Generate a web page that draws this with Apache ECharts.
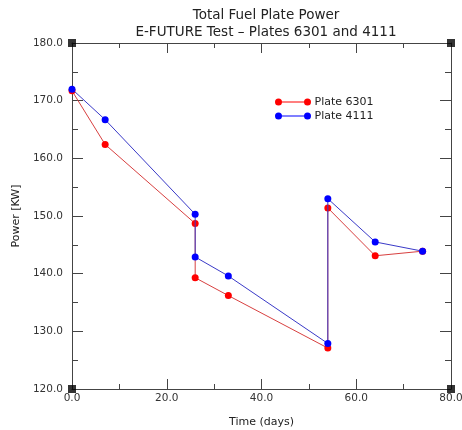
<!DOCTYPE html>
<html>
<head>
<meta charset="utf-8">
<script src="https://cdn.jsdelivr.net/npm/echarts@6/dist/echarts.min.js"></script>
<style>html,body{margin:0;padding:0;background:#fff}#c{width:462px;height:430px}</style>
</head>
<body>
<div id="c"></div>
<script>
var days = [0, 7, 26, 26, 33, 54, 54, 64, 74];
var plate6301 = [171.7, 162.4, 148.7, 139.3, 136.2, 127.1, 151.4, 143.1, 143.9];
var plate4111 = [172.0, 166.7, 150.3, 142.9, 139.6, 127.9, 153.0, 145.5, 143.9];
var seriesNames = ['Plate 6301', 'Plate 4111'];
var xMin = 0, xMax = 80, xStep = 20;
var yMin = 120, yMax = 180, yStep = 10;

function pairs(xs, ys) { return xs.map(function (x, i) { return [x, ys[i]]; }); }
var corners = [[xMin, yMin], [xMax, yMin], [xMin, yMax], [xMax, yMax]];

var FONT = 'DejaVu Sans';
var axisColor = '#444';
var legendIcon = 'path://M0,3.5A3.5,3.5,0,1,1,7,3.5A3.5,3.5,0,1,1,0,3.5ZM3.5,3L32.5,3L32.5,4L3.5,4ZM29,3.5A3.5,3.5,0,1,1,36,3.5A3.5,3.5,0,1,1,29,3.5Z';

function xAxisCfg(pos, showLabel) {
  return {
    type: 'value', position: pos, min: xMin, max: xMax, interval: xStep,
    name: showLabel ? 'Time (days)' : '', nameLocation: 'middle', nameGap: 28,
    nameTextStyle: { fontFamily: FONT, fontSize: 11, color: '#222' },
    axisLine: { show: true, onZero: false, lineStyle: { color: axisColor, width: 1 } },
    axisTick: { show: true, inside: true, length: 10, lineStyle: { color: axisColor } },
    minorTick: { show: true, splitNumber: 2, length: 5, lineStyle: { color: axisColor } },
    axisLabel: { show: showLabel, fontFamily: FONT, fontSize: 10.5, color: '#333', margin: 4,
      formatter: function (v) { return v.toFixed(1); } },
    splitLine: { show: false }
  };
}
function yAxisCfg(pos, showLabel) {
  return {
    type: 'value', position: pos, min: yMin, max: yMax, interval: yStep,
    name: showLabel ? 'Power [KW]' : '', nameLocation: 'middle', nameGap: 50,
    nameTextStyle: { fontFamily: FONT, fontSize: 11, color: '#222' },
    axisLine: { show: true, onZero: false, lineStyle: { color: axisColor, width: 1 } },
    axisTick: { show: true, inside: true, length: 11, lineStyle: { color: axisColor } },
    minorTick: { show: true, splitNumber: 2, length: 6, lineStyle: { color: axisColor } },
    axisLabel: { show: showLabel, fontFamily: FONT, fontSize: 10.5, color: '#333', margin: 9,
      formatter: function (v) { return v.toFixed(1); } },
    splitLine: { show: false }
  };
}

var chart = echarts.init(document.getElementById('c'), null, { renderer: 'canvas' });
chart.setOption({
  animation: false,
  backgroundColor: '#fff',
  title: {
    text: 'Total Fuel Plate Power\nE-FUTURE Test – Plates 6301 and 4111',
    left: 261, top: 2, textAlign: 'center',
    textStyle: { fontFamily: FONT, fontSize: 13.5, fontWeight: 'normal', color: '#222', lineHeight: 17 }
  },
  legend: {
    orient: 'vertical', left: 270, top: 90, itemGap: 0, itemWidth: 37, itemHeight: 7,
    data: seriesNames.map(function (n) { return { name: n, icon: legendIcon }; }),
    textStyle: { fontFamily: FONT, fontSize: 11, color: '#222', lineHeight: 14, padding: [0, 0, 0, -2] }
  },
  grid: { left: 72, right: 11, top: 43, bottom: 41, containLabel: false, outerBoundsMode: 'none' },
  xAxis: [xAxisCfg('bottom', true), xAxisCfg('top', false)],
  yAxis: [yAxisCfg('left', true), yAxisCfg('right', false)],
  series: [
    {
      name: seriesNames[0], type: 'line', data: pairs(days, plate6301),
      symbol: 'circle', symbolSize: 7, showSymbol: true,
      itemStyle: { color: '#ff0000' }, lineStyle: { color: '#d84040', width: 1 }, z: 3
    },
    {
      name: seriesNames[1], type: 'line', data: pairs(days, plate4111),
      symbol: 'circle', symbolSize: 7, showSymbol: true,
      itemStyle: { color: '#0000ff' }, lineStyle: { color: '#3a3ac8', width: 1 }, z: 4
    },
    {
      name: 'corners', type: 'scatter', data: corners, symbol: 'rect', symbolSize: 8,
      itemStyle: { color: '#000' }, silent: true, clip: false, z: 5
    }
  ]
});
</script>
</body>
</html>
